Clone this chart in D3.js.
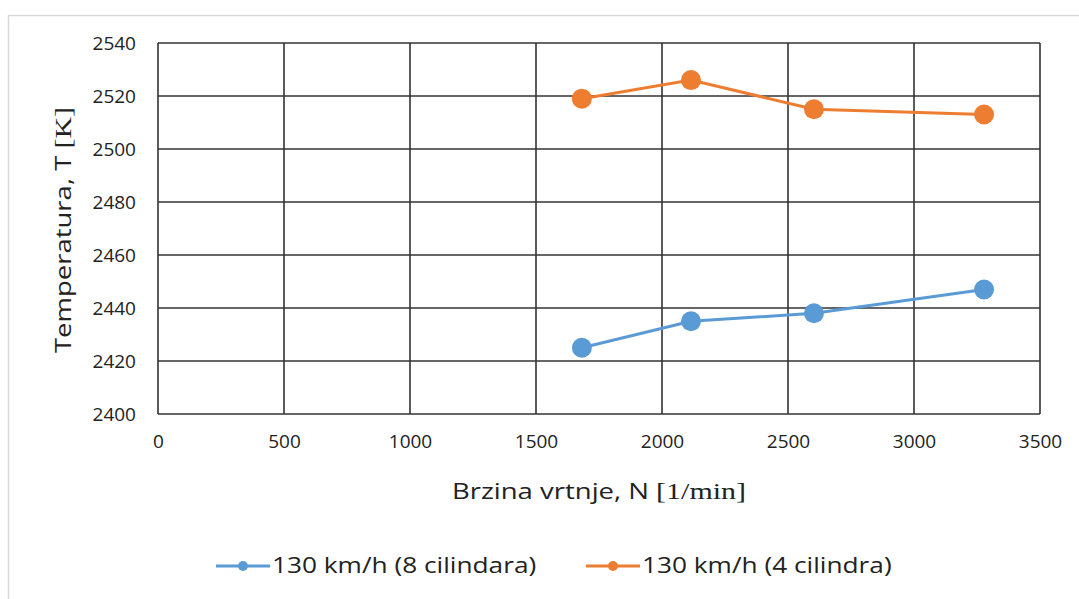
<!DOCTYPE html>
<html>
<head>
<meta charset="utf-8">
<script src="https://cdn.jsdelivr.net/npm/d3@7"></script>
<style>
  body { margin: 0; background: #fff; }
  text { font-family: "Open Sans", sans-serif; fill: #222; }
</style>
</head>
<body>
<div id="chart"></div>
<script>
// Data
const rpm = [1682, 2115, 2603, 3278];
const temp8cyl = [2425, 2435, 2438, 2447];
const temp4cyl = [2519, 2526, 2515, 2513];
const seriesNames = ['130 km/h (8 cilindara)', '130 km/h (4 cilindra)'];
const seriesColors = ['#5b9bd5', '#ed7d31'];
const xTicks = [0, 500, 1000, 1500, 2000, 2500, 3000, 3500];
const yTicks = [2400, 2420, 2440, 2460, 2480, 2500, 2520, 2540];

const width = 1079, height = 599;
const margin = { left: 158, right: 39, top: 43, bottom: 185 };
const stretch = 1.25; // text in the original is drawn wide

const svg = d3.select('#chart').append('svg')
  .attr('width', width)
  .attr('height', height);

// outer chart frame (light gray)
svg.append('rect')
  .attr('x', 8.5).attr('y', 15.5)
  .attr('width', 1100).attr('height', 700)
  .attr('fill', '#fff')
  .attr('stroke', '#d9d9d9')
  .attr('stroke-width', 1.5);

const x = d3.scaleLinear().domain([0, 3500]).range([margin.left, width - margin.right]);
const y = d3.scaleLinear().domain([2400, 2540]).range([height - margin.bottom, margin.top]);

// gridlines
const grid = svg.append('g');
grid.selectAll('line.h').data(yTicks).enter().append('line')
  .attr('x1', x(0)).attr('x2', x(3500))
  .attr('y1', d => y(d)).attr('y2', d => y(d))
  .attr('stroke', '#333').attr('stroke-width', 1.6);
grid.selectAll('line.v').data(xTicks).enter().append('line')
  .attr('y1', y(2400)).attr('y2', y(2540))
  .attr('x1', d => x(d)).attr('x2', d => x(d))
  .attr('stroke', '#333').attr('stroke-width', 1.6);

// axes (labels only)
const xAxis = svg.append('g')
  .attr('transform', 'translate(0,' + y(2400) + ')')
  .call(d3.axisBottom(x).tickValues(xTicks).tickFormat(d3.format('d')).tickSize(0).tickPadding(21));
xAxis.select('.domain').remove();
xAxis.selectAll('text').style('font-size', '19px').attr('fill', '#222');

const yAxis = svg.append('g')
  .attr('transform', 'translate(' + x(0) + ',0)')
  .call(d3.axisLeft(y).tickValues(yTicks).tickFormat(d3.format('d')).tickSize(0).tickPadding(22));
yAxis.select('.domain').remove();
yAxis.selectAll('text').style('font-size', '19px').attr('fill', '#222');

// axis titles
const xt = svg.append('text')
  .attr('transform', 'translate(599,499) scale(' + stretch + ',1)')
  .attr('text-anchor', 'middle')
  .style('font-size', '22px');
xt.append('tspan').text('Brzina vrtnje, N ');
xt.append('tspan').style('font-family', '"Liberation Serif", serif').style('font-size', '24px').text('[1/min]');

const yt = svg.append('text')
  .attr('transform', 'translate(71,230) rotate(-90) scale(' + stretch + ',1)')
  .attr('text-anchor', 'middle')
  .style('font-size', '22px');
yt.append('tspan').text('Temperatura, T ');
yt.append('tspan').style('font-family', '"Liberation Serif", serif').style('font-size', '24px').text('[K]');

// series
const series = [temp8cyl, temp4cyl];
const line = d3.line().x((d, i) => x(rpm[i])).y(d => y(d));

series.forEach((vals, s) => {
  const g = svg.append('g');
  g.append('path')
    .datum(vals)
    .attr('d', line)
    .attr('fill', 'none')
    .attr('stroke', seriesColors[s])
    .attr('stroke-width', 3);
  g.selectAll('circle').data(vals).enter().append('circle')
    .attr('cx', (d, i) => x(rpm[i]))
    .attr('cy', d => y(d))
    .attr('r', 10)
    .attr('fill', seriesColors[s]);
});

// legend
const legendX = [216, 586];
seriesNames.forEach((name, s) => {
  const g = svg.append('g').attr('transform', 'translate(' + legendX[s] + ',566)');
  g.append('line').attr('x1', 0).attr('x2', 54).attr('y1', 0).attr('y2', 0)
    .attr('stroke', seriesColors[s]).attr('stroke-width', 3);
  g.append('circle').attr('cx', 27).attr('cy', 0).attr('r', 5).attr('fill', seriesColors[s]);
  g.append('text')
    .attr('transform', 'translate(56,7) scale(' + stretch + ',1)')
    .style('font-size', '21px').text(name);
});
</script>
</body>
</html>
